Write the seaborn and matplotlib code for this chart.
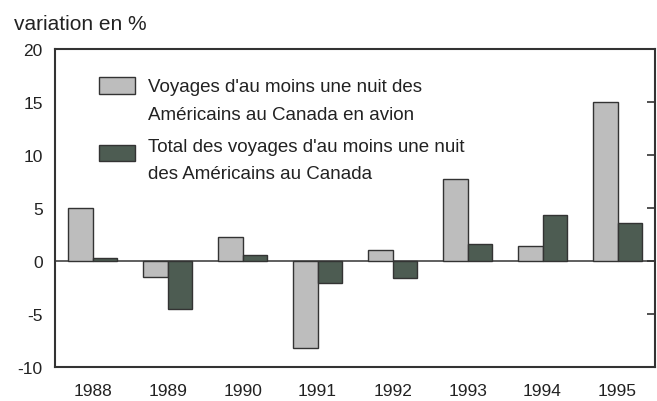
import pandas as pd
import matplotlib
matplotlib.use("Agg")
import matplotlib.pyplot as plt
import seaborn as sns

# --- data ---
years = ["1988", "1989", "1990", "1991", "1992", "1993", "1994", "1995"]
air_trips = [5.0, -1.5, 2.3, -8.2, 1.0, 7.7, 1.4, 15.0]
all_trips = [0.3, -4.5, 0.6, -2.1, -1.6, 1.6, 4.3, 3.6]
series_names = [
    "Voyages d'au moins une nuit des\nAméricains au Canada en avion",
    "Total des voyages d'au moins une nuit\ndes Américains au Canada",
]

df = pd.DataFrame({
    "annee": years * 2,
    "variation": air_trips + all_trips,
    "serie": [series_names[0]] * len(years) + [series_names[1]] * len(years),
})

sns.set_style("white")
plt.rcParams["font.family"] = ["Liberation Sans", "DejaVu Sans"]
plt.rcParams["axes.unicode_minus"] = False

fig = plt.figure(figsize=(6.57, 4.02), dpi=100)
ax = fig.add_axes([0.084, 0.085, 0.913, 0.79])

sns.barplot(data=df, x="annee", y="variation", hue="serie",
            palette=["#bdbdbd", "#4d5c52"], width=0.66,
            edgecolor="#333333", linewidth=1.0, ax=ax, saturation=1)

ax.axhline(0, color="#444444", linewidth=1.2, zorder=0)
ax.set_ylim(-10, 20)
ax.set_yticks([-10, -5, 0, 5, 10, 15, 20])
ax.set_xlim(-0.5, 7.5)
ax.set_xlabel("")
ax.set_ylabel("")
ax.tick_params(axis="y", direction="in", length=6, width=1.2, right=True,
               labelsize=12.5, colors="#333333", labelcolor="#222222", pad=9)
ax.tick_params(axis="x", length=0, labelsize=12.5, labelcolor="#222222", pad=12)
for s in ax.spines.values():
    s.set_color("#333333")
    s.set_linewidth(1.5)

leg = ax.legend(loc="upper left", bbox_to_anchor=(0.045, 0.962), frameon=False,
                fontsize=13.5, handlelength=1.9, handleheight=1.0,
                labelspacing=0.8, handletextpad=0.7)
for t in leg.get_texts():
    t.set_color("#222222")
    t.set_linespacing(1.8)
# the original keeps the swatches near the first line of each entry
for h, dy in zip(leg.legend_handles, [11, 5]):
    h.set_y(h.get_y() + dy)

fig.text(0.021, 0.925, "variation en %", fontsize=15, color="#222222")

plt.savefig("out.png", dpi=100)
